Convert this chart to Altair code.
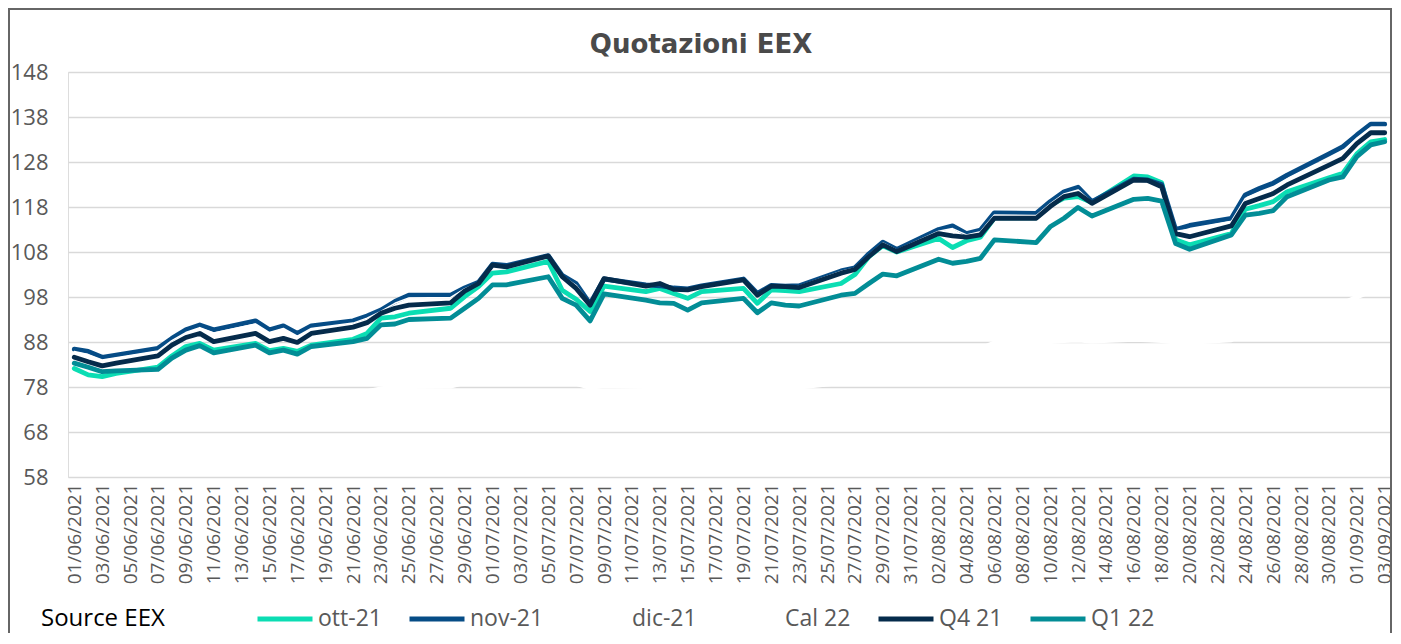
import altair as alt
import pandas as pd

# ---- axis categories -------------------------------------------------------
all_days = pd.date_range("2021-06-01", "2021-09-03").strftime("%d/%m/%Y").tolist()
label_days = all_days[::2]
trade_days = pd.bdate_range("2021-06-01", "2021-09-03").strftime("%d/%m/%Y").tolist()
y_ticks = [58, 68, 78, 88, 98, 108, 118, 128, 138, 148]

series_names = ["ott-21", "nov-21", "dic-21", "Cal 22", "Q4 21", "Q1 22"]
series_colors = ["#0BDDB3", "#064C86", "#FFFFFF", "#FFFFFF", "#052B4B", "#028D96"]

# ---- values (Jun 22 pts, Jul 22, Aug 22, Sep 3) -----------------------------
ott_21 = [82.1, 80.7, 80.3, 81.0, 82.4, 84.9, 87.0, 87.7, 86.2, 87.7, 86.1, 86.6, 85.9, 87.3, 88.6, 89.9, 93.3, 93.6, 94.4, 95.5, 98.1, 100.3,
          103.3, 103.6, 105.9, 99.5, 97.5, 94.8, 100.4, 99.2, 99.9, 98.8, 97.7, 99.2, 99.9, 96.6, 99.6, 99.4, 99.2, 101.0, 103.0, 107.0, 109.4, 108.0,
          111.0, 109.0, 110.5, 111.3, 115.6, 115.6, 118.4, 120.0, 120.3, 119.0, 124.9, 124.7, 123.4, 110.7, 109.6, 112.1, 117.5, 118.3, 119.2, 121.4, 124.5, 125.5,
          129.8, 132.5, 133.0]
nov_21 = [86.4, 85.9, 84.6, 85.1, 86.6, 88.8, 90.7, 91.8, 90.7, 92.7, 90.7, 91.6, 89.9, 91.6, 92.7, 93.8, 95.1, 97.0, 98.4, 98.4, 100.0, 101.3,
          105.3, 105.0, 107.2, 102.8, 101.0, 96.5, 102.0, 100.7, 100.5, 100.0, 99.8, 100.5, 102.0, 98.8, 100.6, 100.4, 100.5, 103.8, 104.5, 107.6, 110.2, 108.6,
          113.0, 113.8, 112.1, 112.9, 116.7, 116.6, 119.2, 121.4, 122.4, 119.2, 124.2, 124.0, 123.0, 113.0, 113.9, 115.5, 120.7, 122.1, 123.3, 125.1, 129.8, 131.4,
          134.0, 136.4, 136.4]
dic_21 = [85.9, 85.2, 84.0, 84.5, 86.0, 88.3, 90.1, 91.2, 90.0, 92.0, 90.1, 91.0, 89.3, 91.0, 92.2, 93.3, 94.8, 96.6, 97.8, 97.9, 99.8, 101.2,
          105.2, 104.9, 107.1, 102.7, 100.6, 96.4, 102.0, 100.6, 100.7, 99.9, 99.7, 100.4, 101.9, 98.6, 100.5, 100.4, 100.4, 103.7, 104.4, 107.4, 110.0, 108.4,
          112.6, 113.2, 111.8, 112.5, 116.2, 116.1, 118.7, 120.9, 121.8, 119.0, 124.1, 124.0, 122.8, 112.6, 113.0, 114.8, 119.9, 121.2, 122.3, 124.2, 128.8, 130.4,
          133.3, 135.7, 135.7]
cal_22 = [74.0, 73.6, 73.3, 73.5, 73.8, 74.8, 75.5, 75.9, 75.3, 76.0, 75.4, 75.7, 75.3, 75.9, 76.5, 77.0, 77.6, 78.0, 78.1, 78.2, 79.0, 79.5,
          80.5, 80.4, 80.8, 79.5, 78.8, 77.9, 78.3, 78.1, 78.0, 77.9, 77.8, 78.0, 78.1, 77.7, 78.0, 78.1, 78.0, 79.0, 79.6, 81.5, 83.0, 83.5,
          85.0, 85.5, 85.8, 86.5, 87.8, 87.9, 88.1, 88.3, 88.4, 88.2, 88.6, 88.5, 88.3, 88.0, 87.9, 88.5, 90.5, 91.5, 92.5, 93.5, 95.5, 96.5,
          98.0, 99.3, 99.5]
q4_21 = [84.6, 83.6, 82.7, 83.3, 84.9, 87.3, 89.0, 89.9, 88.1, 89.9, 88.1, 88.8, 87.9, 89.9, 91.3, 92.3, 94.4, 95.5, 96.2, 96.7, 99.3, 101.0,
         105.1, 104.7, 107.1, 102.5, 99.9, 96.2, 102.1, 100.4, 101.0, 99.7, 99.6, 100.3, 101.8, 98.4, 100.4, 100.3, 100.1, 103.3, 104.1, 107.0, 109.6, 108.1,
         112.1, 111.6, 111.3, 111.8, 115.5, 115.5, 118.1, 120.3, 121.0, 118.8, 124.0, 123.9, 122.5, 112.1, 111.4, 113.8, 118.8, 119.9, 121.0, 122.9, 127.3, 128.8,
         132.1, 134.5, 134.5]
q1_22 = [83.3, 82.4, 81.4, 81.6, 81.9, 84.4, 86.2, 87.2, 85.6, 87.3, 85.6, 86.2, 85.3, 87.0, 88.1, 88.8, 91.8, 92.0, 93.0, 93.3, 95.5, 97.7,
         100.7, 100.7, 102.5, 97.7, 96.2, 92.7, 98.7, 97.3, 96.7, 96.6, 95.1, 96.7, 97.7, 94.5, 96.7, 96.2, 96.0, 98.4, 98.8, 101.0, 103.1, 102.7,
         106.4, 105.5, 105.9, 106.6, 110.7, 110.1, 113.6, 115.5, 117.9, 116.0, 119.7, 119.9, 119.3, 109.9, 108.6, 111.8, 116.2, 116.6, 117.2, 120.3, 124.0, 124.7,
         129.2, 131.8, 132.5]

values = [ott_21, nov_21, dic_21, cal_22, q4_21, q1_22]
rows = []
for name, vals in zip(series_names, values):
    for d, v in zip(trade_days, vals):
        rows.append({"date": d, "series": name, "value": v})
df = pd.DataFrame(rows)

FONT = "Open Sans"
GREY = "#595959"

color = alt.Color(
    "series:N",
    scale=alt.Scale(domain=series_names, range=series_colors),
    legend=alt.Legend(
        title=None, orient="none", legendX=187, legendY=517, direction="horizontal",
        symbolType="stroke", symbolSize=3025, symbolStrokeWidth=5,
        labelFont=FONT, labelFontSize=23, labelColor=GREY, labelOffset=3,
        columnPadding=17, labelLimit=200,
    ),
)
x = alt.X(
    "date:O",
    scale=alt.Scale(domain=all_days, type="point", padding=0.45),
    axis=alt.Axis(values=label_days, labelAngle=270, title=None, domain=False, ticks=False,
                  grid=False, labelFont=FONT, labelFontSize=19, labelColor=GREY,
                  labelPadding=6, labelOverlap=False),
)
y = alt.Y(
    "value:Q",
    scale=alt.Scale(domain=[58, 148], nice=False, zero=False),
    axis=alt.Axis(values=y_ticks, title=None, domain=False, ticks=False,
                  labelFont=FONT, labelFontSize=22, labelColor=GREY, labelPadding=20,
                  gridColor="#D9D9D9", gridWidth=1.5),
)

layers = []
for name in series_names:
    w = 1.5 if name == "dic-21" else 4.8
    layers.append(
        alt.Chart(df).transform_filter(alt.datum.series == name)
        .mark_line(strokeWidth=w, strokeJoin="round", strokeCap="round")
        .encode(x=x, y=y, color=color)
    )

deco = pd.DataFrame({"a": [0]})
frame_left = alt.Chart(deco).mark_rule(color="#666666", strokeWidth=2).encode(
    x=alt.value(-59), y=alt.value(-63), y2=alt.value(570))
frame_top = alt.Chart(deco).mark_rule(color="#666666", strokeWidth=2).encode(
    x=alt.value(-60), x2=alt.value(1324), y=alt.value(-63))
frame_right = alt.Chart(deco).mark_rule(color="#666666", strokeWidth=2).encode(
    x=alt.value(1323), y=alt.value(-63), y2=alt.value(570))
title = alt.Chart(deco).mark_text(text="Quotazioni EEX", align="center", baseline="alphabetic",
                                  font="DejaVu Sans", fontSize=26, fontWeight="bold",
                                  color="#4A4A4A").encode(
    x=alt.value(633), y=alt.value(-19))
source = alt.Chart(deco).mark_text(text="Source EEX", align="left", baseline="alphabetic",
                                   font=FONT, fontSize=24, color="#000000").encode(
    x=alt.value(-27), y=alt.value(554))

chart = alt.layer(*layers, frame_left, frame_top, frame_right, title, source).properties(
    width=1323, height=405,
    padding={"left": 60, "top": 64, "right": 1, "bottom": 156},
    autosize=alt.AutoSizeParams(type="none"),
).configure_view(stroke=None).configure(background="white")

chart.save("out.html", embed_options={"renderer": "svg", "actions": False})
